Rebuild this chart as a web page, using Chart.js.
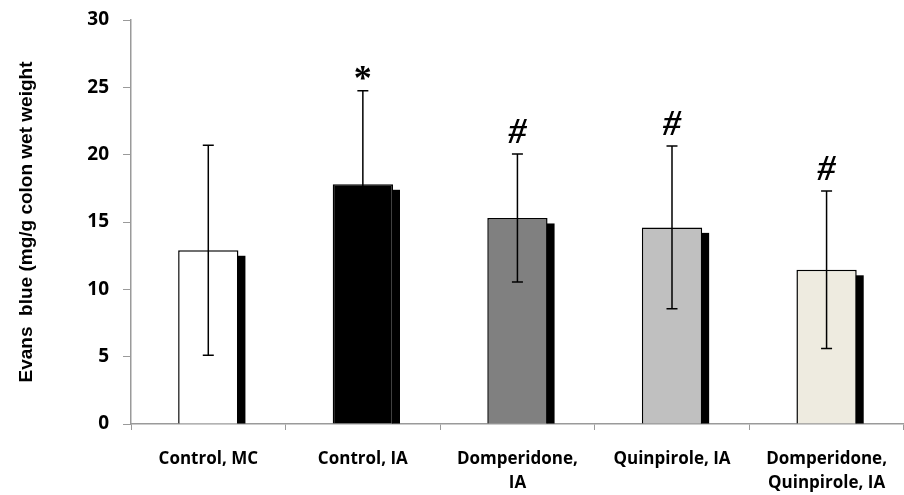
<!DOCTYPE html>
<html>
<head>
<meta charset="utf-8">
<script src="https://cdn.jsdelivr.net/npm/chart.js@4"></script>
<style>
  html, body { margin: 0; padding: 0; background: #fff; }
  #wrap { width: 904px; height: 495px; }
</style>
</head>
<body>
<div id="wrap"><canvas id="chart"></canvas></div>
<script>
// Data
const groups = [['Control, MC'], ['Control, IA'], ['Domperidone,', 'IA'], ['Quinpirole, IA'], ['Domperidone,', 'Quinpirole, IA']];
const means = [12.9, 17.8, 15.3, 14.6, 11.45];
const errors = [7.8, 6.95, 4.75, 6.05, 5.85];
const marks = ['', '*', '#', '#', '#'];
const barColors = ['#ffffff', '#000000', '#808080', '#c0c0c0', '#eeebe0'];
const yTicks = [0, 5, 10, 15, 20, 25, 30];

// Black drop shadow on the right side of each bar
const shadowPlugin = {
    id: 'shadow',
    beforeDatasetsDraw(chart) {
        const ctx = chart.ctx;
        const meta = chart.getDatasetMeta(0);
        ctx.save();
        ctx.fillStyle = '#000';
        meta.data.forEach(bar => {
            const right = bar.x + bar.width / 2;
            ctx.fillRect(right - 1, bar.y + 5.5, 8, bar.base - bar.y - 5.5);
        });
        ctx.restore();
    }
};

// Error bars and significance marks
const errorPlugin = {
    id: 'errors',
    afterDatasetsDraw(chart) {
        const ctx = chart.ctx;
        const y = chart.scales.y;
        const meta = chart.getDatasetMeta(0);
        ctx.save();
        ctx.strokeStyle = '#000';
        ctx.lineWidth = 1.5;
        meta.data.forEach((bar, i) => {
            const top = y.getPixelForValue(means[i] + errors[i]);
            const bot = y.getPixelForValue(means[i] - errors[i]);
            ctx.beginPath();
            ctx.moveTo(bar.x, top);
            ctx.lineTo(bar.x, bot);
            ctx.moveTo(bar.x - 5.5, top);
            ctx.lineTo(bar.x + 5.5, top);
            ctx.moveTo(bar.x - 5.5, bot);
            ctx.lineTo(bar.x + 5.5, bot);
            ctx.stroke();
            if (marks[i]) {
                ctx.fillStyle = '#000';
                ctx.textAlign = 'center';
                ctx.textBaseline = 'alphabetic';
                if (marks[i] === '*') {
                    ctx.font = 'bold 36px "Liberation Serif"';
                    ctx.fillText('*', bar.x, top - 1);
                } else {
                    ctx.font = 'italic bold 36px "Liberation Serif"';
                    ctx.fillText('#', bar.x, top - 11);
                }
            }
        });
        ctx.restore();
    }
};

const ctx = document.getElementById('chart').getContext('2d');
new Chart(ctx, {
    type: 'bar',
    data: {
        labels: groups,
        datasets: [{
            data: means,
            backgroundColor: barColors,
            borderColor: '#000',
            borderWidth: 1.5,
            borderSkipped: 'bottom',
            categoryPercentage: 1,
            barPercentage: 0.39
        }]
    },
    options: {
        responsive: true,
        maintainAspectRatio: false,
        animation: false,
        devicePixelRatio: 1,
        layout: { padding: { top: 20, right: 0, left: 0, bottom: 0 } },
        plugins: {
            legend: { display: false },
            tooltip: { enabled: false }
        },
        scales: {
            x: {
                afterFit: s => { s.height = 71; },
                grid: {
                    drawOnChartArea: false,
                    offset: true,
                    tickLength: 6,
                    color: '#9a9a9a'
                },
                border: { color: '#9a9a9a', width: 1.5 },
                ticks: {
                    color: '#000',
                    font: { family: 'Open Sans', weight: 'bold', size: 17, lineHeight: 1.4 },
                    padding: 17,
                    maxRotation: 0,
                    autoSkip: false
                }
            },
            y: {
                min: 0,
                max: 30,
                afterFit: s => { s.width = 131; s.paddingTop = 0; s.paddingBottom = 0; },
                afterBuildTicks: s => { s.ticks = yTicks.map(v => ({ value: v })); },
                grid: {
                    drawOnChartArea: false,
                    tickLength: 8,
                    color: '#9a9a9a'
                },
                border: { color: '#9a9a9a', width: 1.5 },
                ticks: {
                    color: '#000',
                    font: { family: 'Open Sans', weight: 'bold', size: 19 },
                    padding: 14
                },
                title: {
                    display: true,
                    text: 'Evans  blue (mg/g colon wet weight',
                    color: '#000',
                    font: { family: 'Liberation Sans', weight: 'bold', size: 19 },
                    padding: { top: 15, bottom: 0 }
                }
            }
        }
    },
    plugins: [shadowPlugin, errorPlugin]
});
</script>
</body>
</html>
